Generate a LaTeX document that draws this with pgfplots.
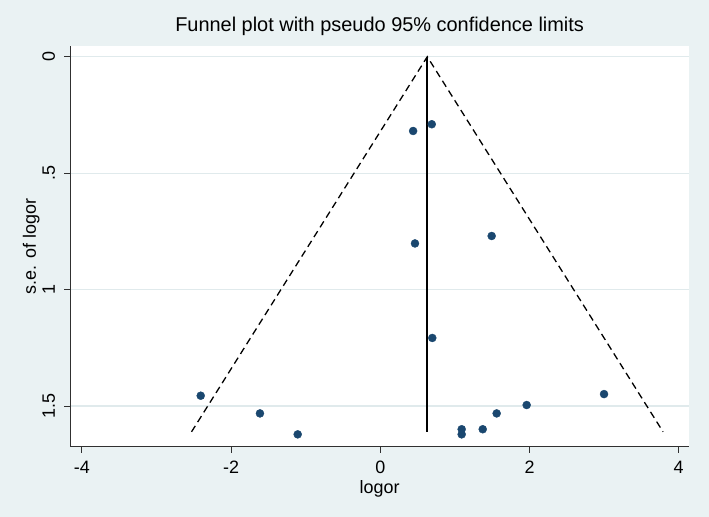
\documentclass[border=0pt]{standalone}
\usepackage{fontspec}
\setmainfont{Liberation Sans}
\usepackage{pgfplots}
\pgfplotsset{compat=1.18}
\definecolor{bg}{HTML}{EAF2F3}
\definecolor{gridc}{HTML}{E0EAEC}
\definecolor{navy}{RGB}{26,71,111}
\definecolor{axc}{HTML}{303030}
\pgfplotstableread{
x y
0.44 0.319
0.69 0.290
0.465 0.802
1.493 0.770
0.697 1.208
-2.407 1.456
-1.613 1.532
-1.107 1.622
1.091 1.600
1.091 1.622
1.373 1.600
1.560 1.532
1.962 1.496
2.999 1.449
}\studies
\begin{document}
\begin{tikzpicture}
\fill[bg] (-70.3bp,-70.3bp) rectangle (638.7bp,446.7bp);
\begin{axis}[
  scale only axis, width=618.7bp, height=400.7bp,
  xmin=-4.155, xmax=4.138, ymin=-0.046, ymax=1.675, y dir=reverse,
  axis background/.style={fill=white},
  axis x line*=bottom, axis y line*=left,
  axis line style={axc, line width=0.9bp, -},
  tick align=outside, major tick length=6bp,
  tick style={axc, line width=0.9bp},
  xtick={-4,-2,0,2,4}, xticklabels={-4,-2,0,2,4},
  ytick={0,0.5,1,1.5}, yticklabels={0,.5,1,1.5},
  ymajorgrids, grid style={gridc, line width=1.2bp},
  ticklabel style={font=\fontsize{18}{21}\selectfont},
  xticklabel style={anchor=base}, xticklabel shift=20.6bp,
  yticklabel style={rotate=90, anchor=base}, yticklabel shift=9.3bp,
  xlabel={logor}, ylabel={s.e. of logor},
  every axis x label/.style={at={(axis description cs:0.5,-0.1156)}, anchor=base, font=\fontsize{18}{21}\selectfont},
  every axis y label/.style={at={(axis description cs:-0.0555,0.5)}, rotate=90, anchor=base, font=\fontsize{18}{21}\selectfont},
  title={Funnel plot with pseudo 95\% confidence limits},
  title style={at={(axis description cs:0.5,1)}, anchor=base, yshift=8.3bp, font=\fontsize{20}{22}\selectfont},
  clip=false,
]
\addplot[black, line width=1.3bp, dash pattern=on 7bp off 4.5bp] coordinates {(-2.53,1.611) (0.63,0) (3.79,1.611)};
\addplot[black, line width=1.6bp] coordinates {(0.63,0) (0.63,1.611)};
\addplot[only marks, mark=*, mark size=4bp, color=navy, mark options={fill=navy, draw=navy}] table[x=x,y=y] {\studies};
\end{axis}
\end{tikzpicture}
\end{document}
